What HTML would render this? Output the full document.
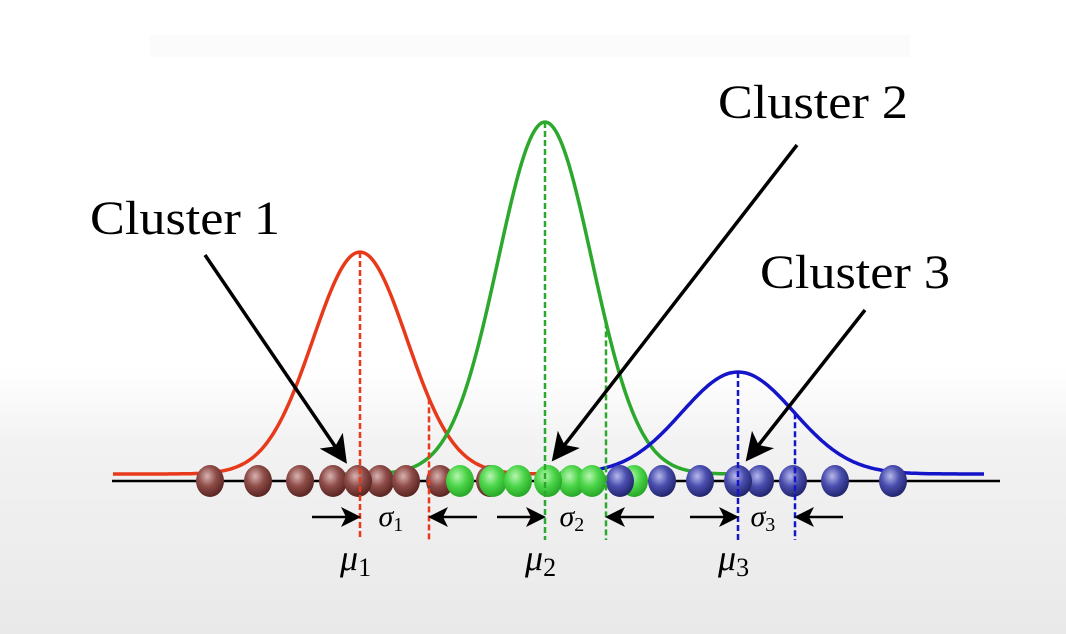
<!DOCTYPE html>
<html><head><meta charset="utf-8"><style>
html,body{margin:0;padding:0;width:1066px;height:634px;overflow:hidden;}
body{background:linear-gradient(to bottom,#ffffff 0%,#ffffff 58%,#f2f2f2 70%,#e9e9e9 100%);font-family:"Liberation Serif",serif;}
</style></head><body>
<svg id="chart" width="1066" height="634" xmlns="http://www.w3.org/2000/svg">
<defs>
<radialGradient id="gr" cx="40%" cy="35%" r="65%"><stop offset="0" stop-color="#d9b3b0"/><stop offset="0.5" stop-color="#8e4c48"/><stop offset="1" stop-color="#5a2622"/></radialGradient>
<radialGradient id="gg" cx="40%" cy="35%" r="65%"><stop offset="0" stop-color="#b8f5b0"/><stop offset="0.5" stop-color="#4cd64a"/><stop offset="1" stop-color="#28a828"/></radialGradient>
<radialGradient id="gb" cx="40%" cy="35%" r="65%"><stop offset="0" stop-color="#b6b8ec"/><stop offset="0.5" stop-color="#4a4eae"/><stop offset="1" stop-color="#23266e"/></radialGradient>
<marker id="ah" markerWidth="8" markerHeight="8" refX="6" refY="4" orient="auto" markerUnits="strokeWidth"><path d="M0,0 L8,4 L0,8 L2,4 Z" fill="#000"/></marker>
</defs>
<g opacity="0.015">
<rect x="150" y="35" width="760" height="22" fill="#000"/>
</g>
<g id="curves"></g>
<line x1="112" y1="481" x2="1000" y2="481" stroke="#000" stroke-width="2.5"/>
<g id="points"></g>
<g id="annot"></g>
<text x="90" y="234" font-size="48" textLength="190" lengthAdjust="spacingAndGlyphs" font-family="Liberation Serif, serif">Cluster 1</text>
<text x="718" y="118" font-size="48" textLength="190" lengthAdjust="spacingAndGlyphs" font-family="Liberation Serif, serif">Cluster 2</text>
<text x="760" y="288" font-size="48" textLength="190" lengthAdjust="spacingAndGlyphs" font-family="Liberation Serif, serif">Cluster 3</text>
<line x1="205" y1="255" x2="343" y2="458" stroke="#000" stroke-width="3.5" marker-end="url(#ah)"/>
<line x1="797" y1="145" x2="556" y2="456" stroke="#000" stroke-width="3.5" marker-end="url(#ah)"/>
<line x1="865" y1="310" x2="750" y2="456" stroke="#000" stroke-width="3.5" marker-end="url(#ah)"/>
</svg>
<script>
const clusterNames = ['cluster-1','cluster-2','cluster-3'];
const means = [360, 545, 738];
const peakHeights = [222, 352, 102];
const curveSigmas = [47, 47, 56];
const sigmaMarks = [429, 606, 795];
const colors = ['#e8391a', '#2ca82c', '#1414c8'];
const pointsRed = [210, 258, 300, 333, 380, 406, 440, 490, 358];
const pointsGreen = [460, 493, 518, 572, 592, 634, 548];
const pointsBlue = [620, 662, 700, 760, 793, 835, 893, 738];
const sigmaLabels = ['σ', 'σ', 'σ'];
const subs = ['1','2','3'];
const NS='http://www.w3.org/2000/svg';
const base = 474, axisY = 481;
function mk(t,a){const e=document.createElementNS(NS,t);for(const k in a)e.setAttribute(k,a[k]);return e;}
const curves=document.getElementById('curves'), pts=document.getElementById('points'), ann=document.getElementById('annot');
function gy(i,x){return base - peakHeights[i]*Math.exp(-0.5*Math.pow((x-means[i])/curveSigmas[i],2));}
const ranges=[[113,560],[330,760],[560,985]];
for(let i=0;i<3;i++){
  let d='';
  for(let x=ranges[i][0];x<=ranges[i][1];x+=2){d+=(x===ranges[i][0]?'M':'L')+x+','+gy(i,x).toFixed(1)+' ';}
  const p=mk('path',{d:d,fill:'none',stroke:colors[i],'stroke-width':3.5});
  
  
  curves.appendChild(p);
  const m=mk('line',{x1:means[i],y1:gy(i,means[i]),x2:means[i],y2:540,stroke:colors[i],'stroke-width':2.5,'stroke-dasharray':'6,3'});
  
  
  ann.appendChild(m);
  const s=mk('line',{x1:sigmaMarks[i],y1:gy(i,sigmaMarks[i]),x2:sigmaMarks[i],y2:540,stroke:colors[i],'stroke-width':2.5,'stroke-dasharray':'6,3'});
  
  
  ann.appendChild(s);
  const a1=mk('line',{x1:means[i]-48,y1:517,x2:means[i]-4,y2:517,stroke:'#000','stroke-width':2.5,'marker-end':'url(#ah)'});
  
  
  ann.appendChild(a1);
  const a2=mk('line',{x1:sigmaMarks[i]+48,y1:517,x2:sigmaMarks[i]+4,y2:517,stroke:'#000','stroke-width':2.5,'marker-end':'url(#ah)'});
  
  
  ann.appendChild(a2);
  const st=mk('text',{x:(means[i]+sigmaMarks[i])/2-16,y:526,'font-size':30,'font-style':'italic','font-family':'Liberation Serif, serif'});
  st.innerHTML=sigmaLabels[i]+'<tspan font-size="20" font-style="normal" dy="5">'+subs[i]+'</tspan>';
  
  
  ann.appendChild(st);
  const mt=mk('text',{x:means[i]-20,y:570,'font-size':36,'font-style':'italic','font-family':'Liberation Serif, serif'});
  mt.innerHTML='μ<tspan font-size="26" font-style="normal" dy="6">'+subs[i]+'</tspan>';
  
  
  ann.appendChild(mt);
}
function drawPts(arr,fill,name){
  arr.forEach(x=>{
    const c=mk('ellipse',{cx:x,cy:axisY,rx:14,ry:16,fill:fill});
    
    
    pts.appendChild(c);
  });
}
drawPts(pointsRed,'url(#gr)','cluster-1');
drawPts(pointsGreen,'url(#gg)','cluster-2');
drawPts(pointsBlue,'url(#gb)','cluster-3');
</script>
</body></html>
